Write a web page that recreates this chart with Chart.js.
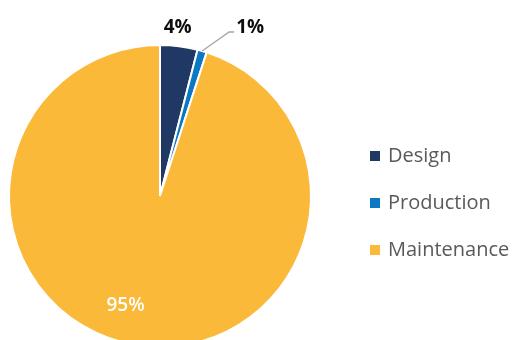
<!DOCTYPE html>
<html>
<head>
<meta charset="utf-8">
<script src="https://cdn.jsdelivr.net/npm/chart.js@4/dist/chart.umd.min.js"></script>
<style>
    html, body { margin: 0; padding: 0; background: #fff; overflow: hidden; }
    #wrap { position: relative; width: 515px; height: 340px; overflow: hidden; }
    canvas { display: block; }
</style>
</head>
<body>
<div id="wrap"><canvas id="pie" width="515" height="360"></canvas></div>
<script>
var categories = ['Design', 'Production', 'Maintenance'];
var shares = [4, 1, 95];

var sliceColors = ['#203864', '#0A78C2', '#FBB93A'];
var FONT = '"Open Sans", Lato, sans-serif';

// where each percentage sits, relative to the pie centre (deg clockwise from top, radius factor)
var labelSpots = [
    { angle: 6, dist: 1.12, color: '#0d0d0d', weight: 'bold', size: 19 },
    { leader: true, color: '#0d0d0d', weight: 'bold', size: 19 },
    { angle: 197.5, dist: 0.76, color: '#ffffff', weight: '600', size: 19 }
];

function toXY(cx, cy, deg, r) {
    var a = (deg - 90) * Math.PI / 180;
    return { x: cx + Math.cos(a) * r, y: cy + Math.sin(a) * r };
}

var pctLabels = {
    id: 'pctLabels',
    afterDatasetsDraw: function (chart) {
        var ctx = chart.ctx;
        var arcs = chart.getDatasetMeta(0).data;
        ctx.save();
        ctx.textAlign = 'center';
        ctx.textBaseline = 'middle';
        arcs.forEach(function (arc, i) {
            var spot = labelSpots[i];
            var txt = shares[i] + '%';
            var cx = arc.x, cy = arc.y, r = arc.outerRadius;
            ctx.fillStyle = spot.color;
            ctx.font = spot.weight + ' ' + spot.size + 'px ' + FONT;
            if (spot.leader) {
                // leader line from the middle of the slim slice up and to the right
                var mid = ((arc.startAngle + arc.endAngle) / 2) * 180 / Math.PI + 90;
                var p0 = toXY(cx, cy, mid, r);
                var p1 = { x: p0.x + 27, y: p0.y - 19 };
                var p2 = { x: p1.x + 5, y: p1.y };
                ctx.strokeStyle = '#A6A6A6';
                ctx.lineWidth = 1.3;
                ctx.beginPath();
                ctx.moveTo(p0.x, p0.y);
                ctx.lineTo(p1.x, p1.y);
                ctx.lineTo(p2.x, p2.y);
                ctx.stroke();
                ctx.textAlign = 'left';
                ctx.fillText(txt, p2.x + 2, p2.y - 4);
                ctx.textAlign = 'center';
            } else {
                var p = toXY(cx, cy, spot.angle, r * spot.dist);
                ctx.fillText(txt, p.x, p.y);
            }
        });
        ctx.restore();
    }
};

// legend on the right, square swatches
var sideLegend = {
    id: 'sideLegend',
    afterDraw: function (chart) {
        var ctx = chart.ctx;
        var colors = chart.data.datasets[0].backgroundColor;
        var x = 370, y = 156, step = 47, box = 10;
        ctx.save();
        ctx.font = '20px ' + FONT;
        ctx.textBaseline = 'middle';
        ctx.textAlign = 'left';
        chart.data.labels.forEach(function (name, i) {
            var yy = y + i * step;
            ctx.fillStyle = colors[i];
            ctx.fillRect(x, yy - box / 2, box, box);
            ctx.fillStyle = '#595959';
            ctx.fillText(name, x + 18, yy);
        });
        ctx.restore();
    }
};

new Chart(document.getElementById('pie'), {
    type: 'pie',
    data: {
        labels: categories,
        datasets: [{
            data: shares,
            backgroundColor: sliceColors,
            borderColor: '#ffffff',
            borderWidth: 2
        }]
    },
    options: {
        responsive: false,
        animation: false,
        devicePixelRatio: 1,
        layout: { padding: { left: 8, right: 203, top: 44, bottom: 12 } },
        plugins: {
            legend: { display: false },
            tooltip: { enabled: false }
        }
    },
    plugins: [pctLabels, sideLegend]
});
</script>
</body>
</html>
